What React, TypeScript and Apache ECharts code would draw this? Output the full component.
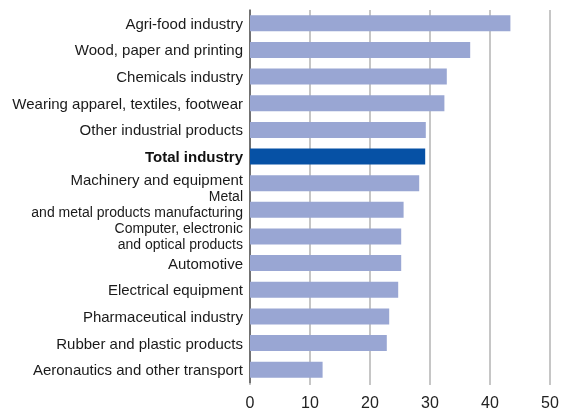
import React, { useEffect, useRef } from "react";
import * as echarts from "echarts";

const categories = [
  "Agri-food industry",
  "Wood, paper and printing",
  "Chemicals industry",
  "Wearing apparel, textiles, footwear",
  "Other industrial products",
  "Total industry",
  "Machinery and equipment",
  "Metal\nand metal products manufacturing",
  "Computer, electronic\nand optical products",
  "Automotive",
  "Electrical equipment",
  "Pharmaceutical industry",
  "Rubber and plastic products",
  "Aeronautics and other transport",
];
const values = [43.4, 36.7, 32.8, 32.4, 29.3, 29.2, 28.2, 25.6, 25.2, 25.2, 24.7, 23.2, 22.8, 12.1];
const highlight = "Total industry";
const xTicks = [0, 10, 20, 30, 40, 50];

const FONT = "'Liberation Sans', Arial, sans-serif";

export default function App() {
  const ref = useRef<HTMLDivElement>(null);
  useEffect(() => {
    if (!ref.current) return;
    const chart = echarts.init(ref.current, null, { renderer: "svg" });
    const cats = [...categories].reverse();
    const vals = [...values].reverse();
    const txt = { fontSize: 15, fontFamily: FONT, color: "#1a1a1a", lineHeight: 15 };
    const small = { fontSize: 14, fontFamily: FONT, color: "#1a1a1a", lineHeight: 16 };
    chart.setOption({
      animation: false,
      grid: { left: 250, right: 14, top: 10, bottom: 26, containLabel: false, outerBoundsMode: "none" },
      xAxis: {
        type: "value",
        min: xTicks[0],
        max: xTicks[xTicks.length - 1],
        interval: 10,
        axisLine: { show: false },
        axisTick: { show: true, length: 2, lineStyle: { color: "#b3b3b3", width: 1.5 } },
        splitLine: { show: true, lineStyle: { color: "#b3b3b3", width: 1.5 } },
        axisLabel: { color: "#222", fontSize: 16, fontFamily: FONT, margin: 11 },
      },
      yAxis: {
        type: "category",
        data: cats,
        axisTick: { show: false },
        axisLine: { show: true, lineStyle: { color: "#555", width: 1.5 } },
        axisLabel: {
          ...txt,
          margin: 7,
          formatter: (v: string) => {
            if (v === highlight) return "{b|" + v + "}";
            if (v.startsWith("Metal")) return v.split("\n").map((s) => "{s|" + s + "}").join("\n") + "\n{e12| }";
            if (v.includes("\n")) return v.split("\n").map((s) => "{s|" + s + "}").join("\n");
            if (v.startsWith("Machinery")) return "{t|" + v + "}\n{e7| }";
            return v;
          },
          rich: {
            t: { ...txt },
            s: { ...small },
            b: { ...txt, fontWeight: "bold", color: "#111" },
            e12: { fontSize: 6, lineHeight: 12 },
            e7: { fontSize: 6, lineHeight: 7 },
          },
        },
      },
      series: [
        {
          type: "bar",
          barCategoryGap: "40%",
          data: vals.map((v, i) => ({
            value: v,
            itemStyle: { color: cats[i] === highlight ? "#0651a5" : "#99a6d3" },
          })),
        },
      ],
    });
    return () => chart.dispose();
  }, []);
  return <div ref={ref} style={{ position: "fixed", left: 0, top: 0, width: 564, height: 409 }} />;
}
